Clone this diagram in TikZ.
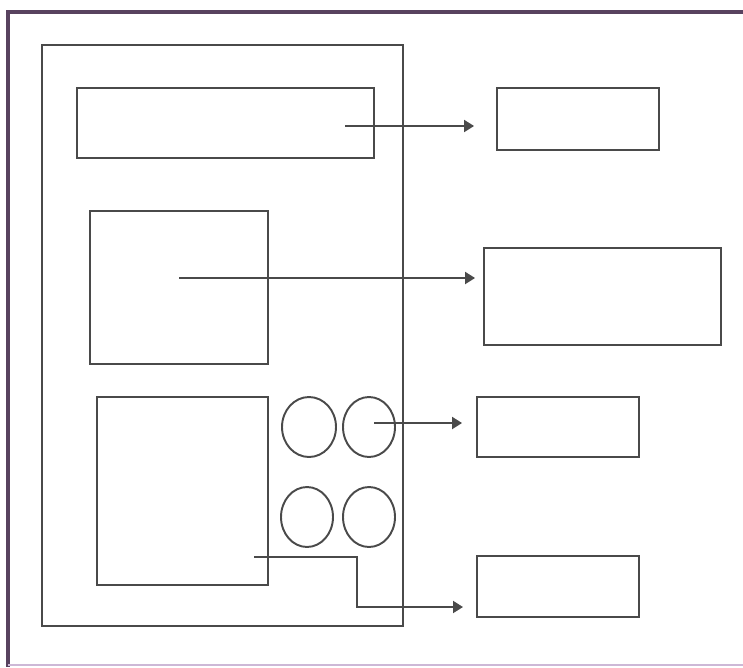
\documentclass[tikz,border=0pt]{standalone}
\usetikzlibrary{arrows.meta,shapes.geometric}
\definecolor{boxgray}{HTML}{4A4A4A}
\definecolor{framepurple}{HTML}{58425F}
\definecolor{framelilac}{HTML}{CDB8D6}
\begin{document}
\begin{tikzpicture}[x=0.02cm,y=-0.02cm,
    box/.style={draw=boxgray,line width=1.1pt,inner sep=0pt},
    pad/.style={box,ellipse,minimum width=1.08cm,minimum height=1.2cm},
    arr/.style={draw=boxgray,line width=1.1pt,-{Triangle[length=0.2cm,width=0.24cm]}}]
    \useasboundingbox[fill=white] (0,0) rectangle (743,667);
    % frame of the page
    \draw[framepurple,line width=2.4pt] (743,12) -- (8,12) -- (8,667);
    \draw[framelilac,line width=0.8pt] (8,665) -- (743,665);
    % the screen
    \node[box,minimum width=7.22cm,minimum height=11.62cm] (screen) at (222.5,335.5) {};
    \node[box,minimum width=5.94cm,minimum height=1.4cm] (bar) at (225.5,123) {};
    \node[box,minimum width=3.56cm,minimum height=3.06cm] (view) at (179,287.5) {};
    \node[box,minimum width=3.42cm,minimum height=3.76cm] (pad) at (182.5,491) {};
    \node[pad] (b1) at (309,427) {};
    \node[pad,minimum width=1.04cm] (b2) at (369,427) {};
    \node[pad,minimum width=1.04cm] (b3) at (307,517) {};
    \node[pad,minimum width=1.04cm] (b4) at (369,517) {};
    % the boxes on the right
    \node[box,minimum width=3.24cm,minimum height=1.24cm] (out1) at (578,119) {};
    \node[box,minimum width=4.74cm,minimum height=1.94cm] (out2) at (602.5,296.5) {};
    \node[box,minimum width=3.24cm,minimum height=1.2cm] (out3) at (558,427) {};
    \node[box,minimum width=3.24cm,minimum height=1.22cm] (out4) at (558,586.5) {};
    % arrows
    \coordinate (s1) at (345,126);
    \coordinate (s2) at (179,278);
    \coordinate (s3) at (374,423);
    \coordinate (s4) at (254,557);
    \coordinate (k4) at (357,557);
    \coordinate (e4) at (463,607);
    \draw[arr,shorten >=0.44cm] (s1) -- (s1 -| out1.west);
    \draw[arr,shorten >=0.16cm] (s2) -- (s2 -| out2.west);
    \draw[arr,shorten >=0.28cm] (s3) -- (s3 -| out3.west);
    \draw[arr] (s4) -- (k4) |- (e4);
  \end{tikzpicture}
\end{document}
